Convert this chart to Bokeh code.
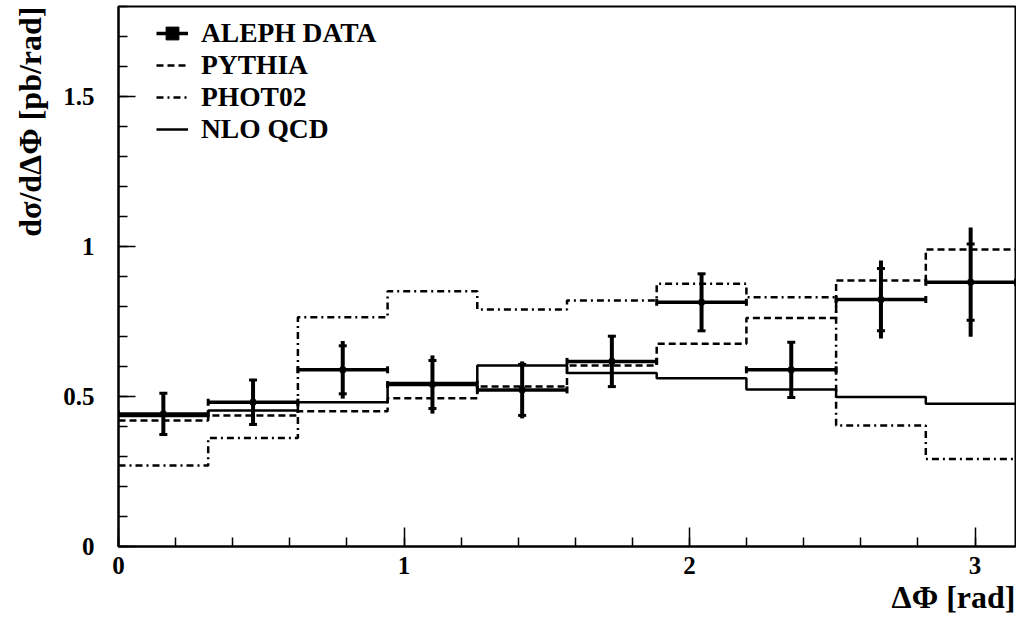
import numpy as np
from bokeh.plotting import figure
from bokeh.models import (Range1d, FixedTicker, NumeralTickFormatter, Title,
                          Legend, LegendItem, ColumnDataSource)
from bokeh.embed import file_html
from bokeh.resources import INLINE

# ---------------- data ----------------
n_bins = 10
x_max = np.pi
aleph = [0.442, 0.481, 0.589, 0.540, 0.522, 0.617, 0.814, 0.589, 0.823, 0.881]
aleph_tot = [0.069, 0.074, 0.096, 0.097, 0.095, 0.088, 0.095, 0.092, 0.130, 0.182]
aleph_stat = [0.069, 0.074, 0.080, 0.080, 0.085, 0.084, 0.095, 0.092, 0.104, 0.127]
pythia = [0.420, 0.437, 0.451, 0.494, 0.533, 0.603, 0.676, 0.762, 0.887, 0.990]
phot02 = [0.270, 0.362, 0.764, 0.851, 0.790, 0.820, 0.876, 0.831, 0.403, 0.292]
nlo = [0.435, 0.453, 0.481, 0.545, 0.603, 0.578, 0.561, 0.523, 0.498, 0.476]
x_ticks = [0, 1, 2, 3]
y_ticks = [0, 0.5, 1, 1.5]

FONT = "Liberation Serif"

edges = np.linspace(0, x_max, n_bins + 1)
lo = edges[:-1]
hi = edges[1:]
ctr = 0.5 * (lo + hi)
a = np.array(aleph)
tot = np.array(aleph_tot)
st = np.array(aleph_stat)

p = figure(width=1016, height=618, output_backend="svg", toolbar_location=None,
           x_range=Range1d(0, x_max), y_range=Range1d(0, 1.8),
           min_border_left=117, min_border_right=1, min_border_top=6,
           min_border_bottom=72)
p.background_fill_color = "white"
p.border_fill_color = "white"
p.outline_line_color = "black"
p.outline_line_width = 2
p.xgrid.visible = False
p.ygrid.visible = False

# axes
for ax in (p.xaxis[0], p.yaxis[0]):
    ax.axis_line_width = 2
    ax.axis_line_color = "black"
    ax.major_tick_out = 0
    ax.minor_tick_out = 0
    ax.major_tick_line_width = 1.5
    ax.minor_tick_line_width = 1.5
    ax.major_tick_line_color = "black"
    ax.minor_tick_line_color = "black"
    ax.major_label_text_font = FONT
    ax.major_label_text_font_style = "bold"
    ax.major_label_text_font_size = "25px"
    ax.major_label_text_color = "black"

p.xaxis.ticker = FixedTicker(ticks=x_ticks, minor_ticks=list(np.arange(0, 3.21, 0.2)))
p.yaxis.ticker = FixedTicker(ticks=y_ticks, minor_ticks=list(np.arange(0, 1.81, 0.1)))
p.xaxis.major_tick_in = 19
p.xaxis.minor_tick_in = 9
p.yaxis.major_tick_in = 17
p.yaxis.minor_tick_in = 9
p.xaxis.major_label_standoff = 10
p.yaxis.major_label_standoff = 24
p.yaxis.formatter = NumeralTickFormatter(format="0.[0]")

# step histograms
r_pyt = p.step(list(edges), pythia + [pythia[-1]], mode="after", line_color="black",
               line_width=2.5, line_dash="7 4")
r_pho = p.step(list(edges), phot02 + [phot02[-1]], mode="after", line_color="black",
               line_width=2.5, line_dash="7 4 2 4")
r_nlo = p.step(list(edges), nlo + [nlo[-1]], mode="after", line_color="black",
               line_width=2.5)

# data
src = ColumnDataSource(dict(lo=lo, hi=hi, x=ctr, y=a,
                            yt0=a - tot, yt1=a + tot,
                            ys0=a - st, ys1=a + st))
r_hbar = p.segment(x0="lo", x1="hi", y0="y", y1="y", source=src,
                   line_color="black", line_width=3.5)
p.segment(x0="x", x1="x", y0="yt0", y1="yt1", source=src,
          line_color="black", line_width=4)
p.scatter(x="x", y="ys0", source=src, marker="dash", size=8, line_width=3,
          line_color="black")
p.scatter(x="x", y="ys1", source=src, marker="dash", size=8, line_width=3,
          line_color="black")
p.scatter(x="lo", y="y", source=src, marker="dash", angle=np.pi / 2, size=7,
          line_width=3, line_color="black")
p.scatter(x="hi", y="y", source=src, marker="dash", angle=np.pi / 2, size=7,
          line_width=3, line_color="black")
r_mk = p.scatter(x="x", y="y", source=src, marker="square", size=5,
                 fill_color="black", line_color="black")

legend = Legend(items=[
    LegendItem(label="ALEPH DATA", renderers=[r_hbar, r_mk]),
    LegendItem(label="PYTHIA", renderers=[r_pyt]),
    LegendItem(label="PHOT02", renderers=[r_pho]),
    LegendItem(label="NLO QCD", renderers=[r_nlo]),
], location=(38, 401))
legend.margin = 0
legend.padding = 0
legend.spacing = 0
legend.glyph_width = 32
legend.glyph_height = 32
legend.label_height = 32
legend.label_standoff = 13
legend.label_text_font = FONT
legend.label_text_font_style = "bold"
legend.label_text_font_size = "27.5px"
legend.label_text_color = "black"
legend.background_fill_alpha = 0
legend.border_line_alpha = 0
p.add_layout(legend, "center")

# axis titles
ytitle = Title(text="dσ/dΔΦ [pb/rad]", align="right", standoff=22,
               vertical_align="top",
               text_font=FONT, text_font_style="bold",
               text_font_size="32px", text_color="black")
xtitle = Title(text="ΔΦ [rad]", align="right", standoff=0,
               text_font=FONT, text_font_style="bold",
               text_font_size="32px", text_color="black")
p.add_layout(ytitle, "left")
p.add_layout(xtitle, "below")

open("out.html", "w").write(file_html(p, INLINE))
